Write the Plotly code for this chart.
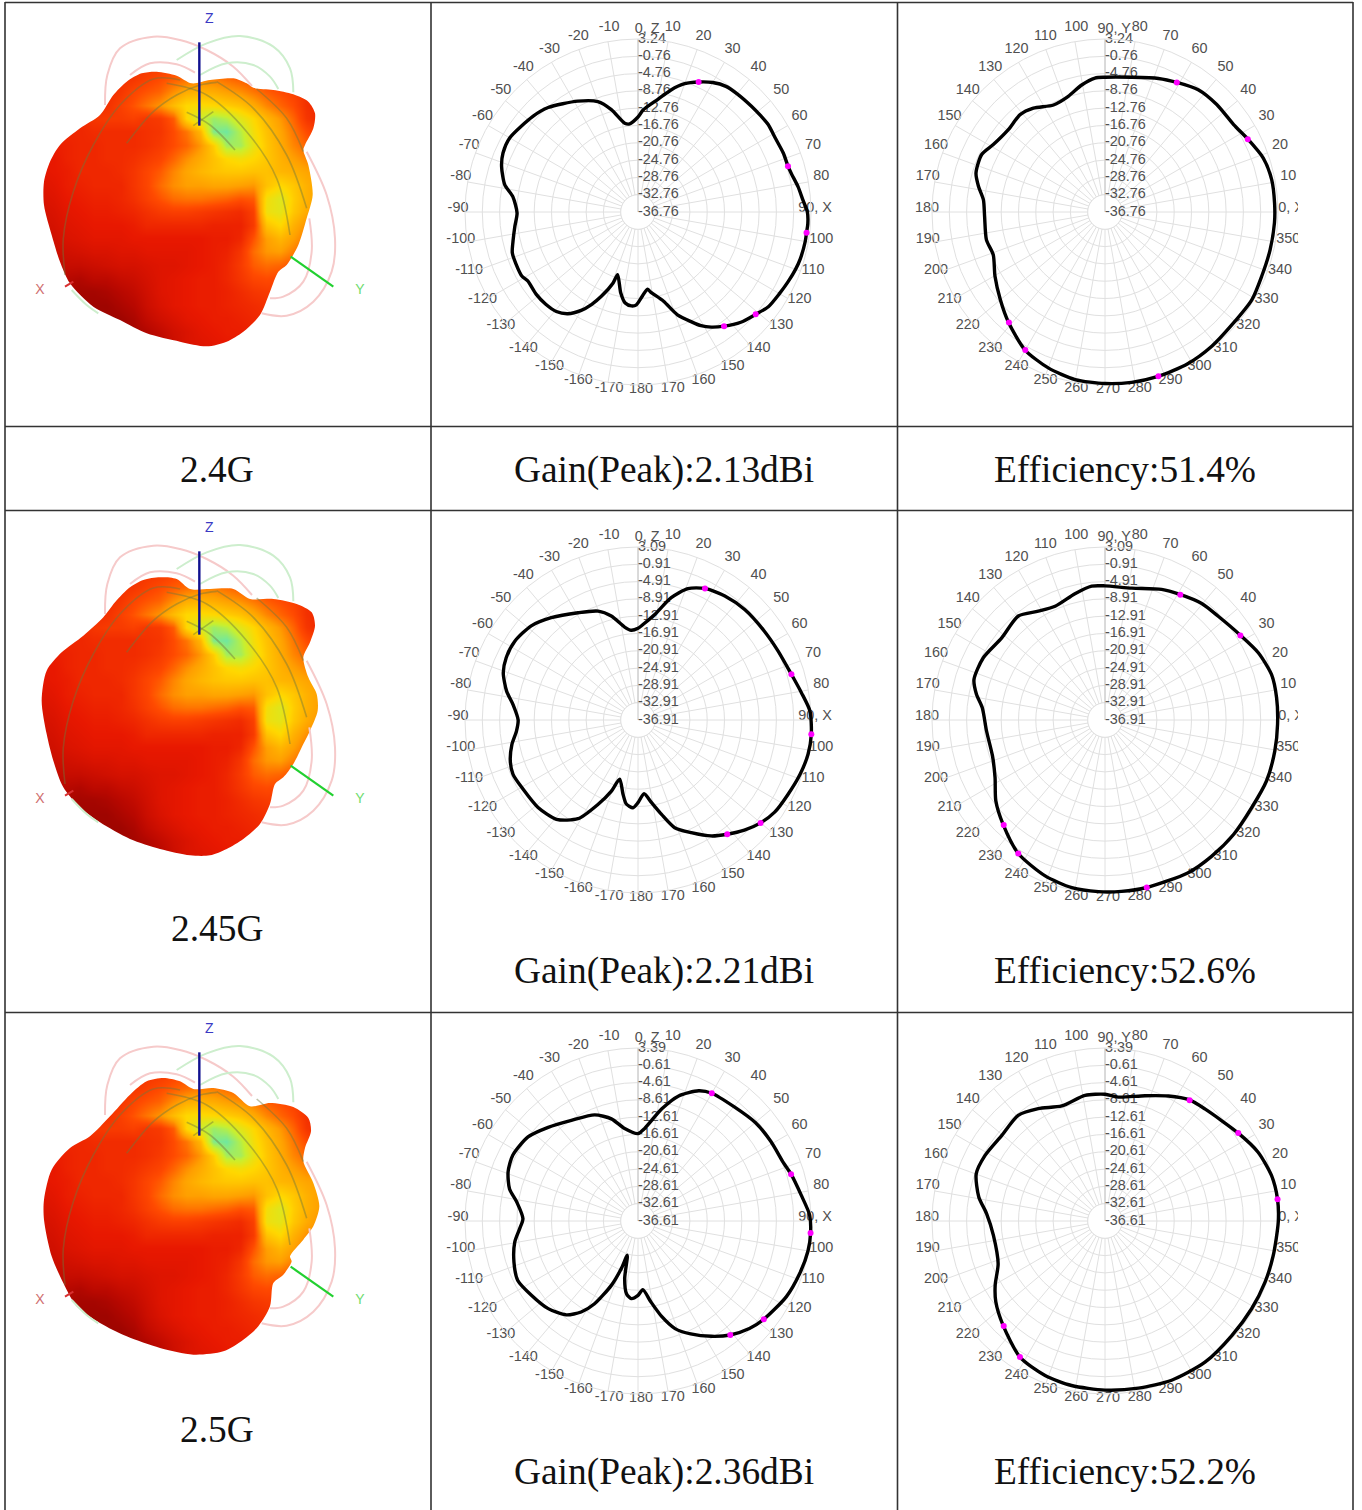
import plotly.graph_objects as go

W, H = 1362, 1510

# ---------- Text of the table ----------
freq_labels = ["2.4G", "2.45G", "2.5G"]
gain_labels = ["Gain(Peak):2.13dBi", "Gain(Peak):2.21dBi", "Gain(Peak):2.36dBi"]
eff_labels = ["Efficiency:51.4%", "Efficiency:52.6%", "Efficiency:52.2%"]

# ---------- Radial ticks (dB) ----------
ticks_r1 = [3.24, -0.76, -4.76, -8.76, -12.76, -16.76, -20.76, -24.76, -28.76, -32.76, -36.76]
ticks_r2 = [3.09, -0.91, -4.91, -8.91, -12.91, -16.91, -20.91, -24.91, -28.91, -32.91, -36.91]
ticks_r3 = [3.39, -0.61, -4.61, -8.61, -12.61, -16.61, -20.61, -24.61, -28.61, -32.61, -36.61]
ticktext_r1 = ["3.24", "-0.76", "-4.76", "-8.76", "-12.76", "-16.76", "-20.76", "-24.76", "-28.76", "-32.76", "-36.76"]
ticktext_r2 = ["3.09", "-0.91", "-4.91", "-8.91", "-12.91", "-16.91", "-20.91", "-24.91", "-28.91", "-32.91", "-36.91"]
ticktext_r3 = ["3.39", "-0.61", "-4.61", "-8.61", "-12.61", "-16.61", "-20.61", "-24.61", "-28.61", "-32.61", "-36.61"]

# ---------- Angular ticks ----------
angle_ticks = [0, 10, 20, 30, 40, 50, 60, 70, 80, 90, 100, 110, 120, 130, 140, 150, 160, 170,
               180, 190, 200, 210, 220, 230, 240, 250, 260, 270, 280, 290, 300, 310, 320, 330, 340, 350]
gain_angle_text = ["0, Z", "10", "20", "30", "40", "50", "60", "70", "80", "90, X", "100", "110", "120",
                   "130", "140", "150", "160", "170", "180", "-170", "-160", "-150", "-140", "-130",
                   "-120", "-110", "-100", "-90", "-80", "-70", "-60", "-50", "-40", "-30", "-20", "-10"]
eff_angle_text = ["0, X", "10", "20", "30", "40", "50", "60", "70", "80", "90, Y", "100", "110", "120",
                  "130", "140", "150", "160", "170", "180", "190", "200", "210", "220", "230", "240",
                  "250", "260", "270", "280", "290", "300", "310", "320", "330", "340", "350"]

# ---------- Gain cuts (XZ plane): angle, dB ----------
gain1_theta = [0, 3, 10, 15, 20, 25, 30, 35, 40, 47, 52, 56, 62, 68, 73, 76, 81, 86, 90, 94, 97, 100, 106, 110,
               115, 120, 126, 131, 137, 143, 147.5, 151, 154, 159, 164, 171, 173, 177, 181, 184, 188, 192, 198,
               199.4, 203.5, 206.7, 210, 214.6, 219.4, 225, 231, 238, 241, 247, 252, 257.5, 263.4, 269.5, 277,
               281.6, 288.5, 293.6, 300, 312.3, 319.3, 331.5, 340, 345.4, 351.5, 354.6]
gain1_db = [-14.8, -13.1, -10.3, -7.6, -5.2, -3.6, -2.2, -1.3, -1.1, -0.9, -0.7, -0.5, -0.7, -0.5, -0.5, -0.2, 0.7,
            1.5, 2.4, 2.6, 2.5, 2.5, 2.3, 2.0, 1.5, 1.0, 0.5, -0.7, -1.9, -3.7, -5.2, -6.7, -8.5, -11.3, -15.3,
            -18.0, -18.8, -17.3, -15.3, -15.0, -15.5, -17.6, -21.5, -19.3, -15.5, -12.8, -10.5, -8.2, -7.0, -6.6,
            -6.5, -6.7, -6.1, -6.1, -6.2, -7.2, -8.1, -8.8, -7.6, -5.3, -3.5, -2.7, -2.5, -3.9, -4.9, -7.6, -9.6,
            -12.3, -16.0, -16.3]
gain2_theta = [0, 3, 9, 15.2, 20.8, 26.9, 35, 44, 54.9, 63.8, 73.4, 80.5, 87, 94.7, 101.4, 108.6, 116.4, 124, 130,
               136, 142, 147.7, 154.7, 161.2, 166, 170.8, 175.3, 180, 183.3, 187.9, 191.4, 197.2, 200.6, 205.4,
               211.3, 219.4, 228.8, 238.9, 246.5, 252.2, 259, 264.8, 270, 277, 282.4, 289.3, 295.3, 302.6, 311.4,
               319.7, 330.8, 339.9, 345.6, 351.8, 355.7]
gain2_db = [-15.7, -14.8, -12.2, -7.6, -4.4, -2.8, -1.9, -1.4, -1.2, -0.8, 0.1, 1.4, 2.9, 3.3, 3.2, 2.6, 1.8, 1.2,
            0.1, -1.5, -3.4, -5.2, -8.1, -10.6, -14.4, -17.6, -19.8, -17.8, -16.6, -17.3, -19.4, -22.6, -19.3,
            -15.3, -10.2, -7.2, -6.2, -5.9, -5.4, -5.9, -7.2, -8.7, -9.2, -7.8, -5.8, -3.9, -3.2, -3.1, -4.0, -5.9,
            -8.5, -10.1, -12.1, -15.2, -16.1]
gain3_theta = [0, 4, 12, 18, 25, 30, 40, 50, 59, 68, 73, 81, 88, 94, 100, 108, 117, 128, 134, 141, 147.5, 155, 161,
               166, 171, 176, 180, 185, 189, 193, 197.3, 199.3, 202.5, 207.7, 212, 217.4, 225.7, 235, 243.7, 251.7,
               260.3, 266.3, 271.2, 279, 284, 290.7, 297.7, 307.4, 316.2, 326.5, 337.8, 345.4, 351.8]
gain3_db = [-16.4, -15.2, -10.1, -6.2, -3.4, -2.5, -2.1, -1.2, -0.8, -0.4, 0.4, 1.6, 3.1, 3.39, 3.3, 2.7, 1.9, 0.3,
            -0.8, -2.7, -5.0, -7.8, -10.3, -13.8, -17.7, -20.7, -19.4, -18.6, -19.6, -22.9, -28.3, -25.0, -20.5,
            -15.0, -11.8, -9.3, -7.6, -6.6, -5.6, -6.4, -7.7, -9.2, -10.0, -8.2, -6.0, -4.5, -3.9, -4.6, -6.6, -8.7,
            -10.1, -12.2, -15.0]

# ---------- Efficiency cuts (XY plane): angle, dB ----------
eff1_theta = [90, 78.8, 68.2, 61, 52.7, 43.9, 34.2, 27.1, 18.8, 11, 3, 356.3, 347.1, 337.7, 329.1, 318.3, 308.5, 298.6,
              287.9, 278.9, 270, 259.9, 250, 239.8, 228.7, 219.9, 210.3, 200.9, 193.2, 182, 174.2, 168.5, 163.2,
              155, 148.9, 139.6, 131.1, 124.6, 115.7, 107.6, 100.4, 94.3]
eff1_db = [-5.6, -5.0, -3.5, -2.5, -1.2, -0.9, -0.8, 0.3, 1.9, 2.5, 2.5, 2.5, 2.4, 2.4, 2.8, 2.5, 2.9, 3.2, 3.2, 3.1,
           2.9, 2.6, 1.6, 0.1, -2.9, -5.2, -7.3, -9.1, -8.6, -8.9, -8.5, -6.9, -5.6, -5.3, -6.6, -7.4, -6.9, -7.6,
           -9.3, -8.7, -6.9, -5.7]
eff2_theta = [90, 78.5, 66.6, 59.2, 50.3, 42.5, 32.2, 23.7, 15.3, 7.4, 358.6, 349.7, 339.3, 329.1, 318.3, 308, 298.4,
              284, 275.5, 267.8, 258.8, 249, 237, 225.6, 216.5, 207.7, 197.7, 185.3, 174.3, 168.7, 162.8, 152.9,
              141.5, 129.8, 121.5, 113.7, 103.4, 95.7]
eff2_db = [-5.9, -5.8, -4.0, -3.1, -1.9, -1.4, 0.0, 1.8, 3.0, 3.1, 3.0, 3.0, 3.0, 2.6, 2.9, 3.1, 3.3, 3.0, 2.9, 2.8,
           2.6, 1.7, -0.1, -3.2, -5.5, -8.2, -9.6, -9.4, -8.4, -6.6, -5.2, -5.3, -6.4, -5.6, -7.4, -8.2, -6.9, -5.8]
eff3_theta = [90, 83.9, 72.3, 63.1, 55.3, 48.3, 33.4, 24.2, 15.3, 7.2, 359.7, 348.5, 339.1, 329.1, 317.9, 305.3, 292.7,
              281.3, 270, 258.5, 248.8, 238, 225.6, 216.5, 210.3, 201.8, 187.3, 176.5, 169.2, 159.9, 151.3, 140.3,
              129.4, 120.7, 110.6, 99]
eff3_db = [-7.3, -7.8, -6.2, -4.2, -2.5, -1.9, 0.3, 2.2, 3.3, 3.6, 3.45, 3.1, 3.0, 2.9, 2.9, 3.4, 3.3, 2.8, 2.5, 2.2,
           1.7, 0.5, -2.9, -5.2, -7.2, -10.0, -10.6, -9.2, -6.9, -4.9, -5.0, -5.6, -5.0, -6.4, -8.2, -7.2]

# ---------- Magenta markers: angle, dB ----------
gain1_mark_theta = [25, 73, 97, 131, 143]
gain1_mark_db = [-3.6, -0.5, 2.5, -0.7, -3.7]
gain2_mark_theta = [27, 73.4, 94.7, 130, 142]
gain2_mark_db = [-2.8, 0.1, 3.3, 0.1, -3.4]
gain3_mark_theta = [30, 73, 94, 128, 141]
gain3_mark_db = [-2.5, 0.4, 3.39, 0.3, -2.7]
eff1_mark_theta = [61, 27, 288, 240, 229]
eff1_mark_db = [-2.5, 0.3, 3.2, 0.1, -2.9]
eff2_mark_theta = [59, 32, 284, 237, 226]
eff2_mark_db = [-3.1, 0.0, 3.0, -0.1, -3.2]
eff3_mark_theta = [55, 33.4, 7.2, 238, 226]
eff3_mark_db = [-2.5, 0.3, 3.6, 0.5, -2.9]

# ---------- 3D pattern picture: shading grid and silhouettes ----------
shade_x = [60, 100, 140, 180, 220, 260, 300, 340, 380, 420, 460, 500, 540, 580, 620, 660, 700, 740, 780, 820, 860, 900]
shade_y = [180, 220, 260, 300, 340, 380, 420, 460, 500, 540, 580, 620, 660, 700, 740, 780, 820, 860, 900, 940, 980, 1020]
shade_z = [
    [2.4, 2.4, 2.4, 2.4, 2.4, 2.4, 2.5, 2.5, 2.6, 2.7, 2.9, 3.0, 3.2, 3.2, 3.2, 3.1, 3.0, 2.8, 2.7, 2.6, 2.4, 2.4],
    [2.4, 2.4, 2.4, 2.4, 2.4, 2.4, 2.5, 2.6, 2.8, 3.0, 3.2, 3.4, 3.6, 3.6, 3.4, 3.2, 3.0, 2.9, 2.8, 2.6, 2.4, 2.4],
    [2.3, 2.3, 2.3, 2.3, 2.4, 2.4, 2.6, 2.9, 3.1, 3.3, 3.8, 4.2, 4.3, 4.2, 4.0, 3.8, 3.5, 3.2, 3.0, 2.8, 2.5, 2.3],
    [2.2, 2.2, 2.3, 2.3, 2.4, 2.5, 2.8, 3.1, 3.5, 3.9, 4.5, 5.0, 5.1, 5.0, 4.8, 4.6, 4.2, 3.7, 3.3, 3.0, 2.5, 2.3],
    [2.1, 2.2, 2.3, 2.4, 2.6, 2.7, 2.7, 2.8, 2.6, 2.7, 3.2, 5.0, 5.9, 6.5, 6.2, 5.5, 5.0, 4.4, 3.9, 3.3, 2.6, 2.3],
    [2.1, 2.2, 2.3, 2.3, 2.4, 2.4, 2.4, 2.4, 2.5, 2.6, 3.0, 3.5, 4.4, 6.8, 7.0, 6.2, 5.2, 4.6, 4.1, 3.5, 3.0, 2.6],
    [2.0, 2.1, 2.2, 2.3, 2.3, 2.4, 2.4, 2.4, 2.5, 2.7, 3.0, 3.3, 3.9, 4.8, 6.4, 6.4, 5.4, 4.7, 4.2, 3.7, 3.3, 3.0],
    [2.0, 2.0, 2.2, 2.3, 2.3, 2.4, 2.4, 2.5, 2.7, 2.9, 3.3, 3.8, 4.2, 4.6, 5.0, 5.2, 5.0, 4.7, 4.3, 4.0, 3.7, 3.5],
    [1.9, 2.0, 2.1, 2.3, 2.3, 2.3, 2.4, 2.6, 2.9, 3.2, 3.7, 4.1, 4.4, 4.6, 4.7, 4.7, 4.6, 4.6, 4.4, 4.3, 4.1, 4.0],
    [1.8, 1.9, 2.1, 2.2, 2.3, 2.3, 2.3, 2.6, 2.9, 3.4, 3.8, 4.0, 4.0, 4.1, 4.1, 4.0, 3.9, 4.6, 5.0, 4.7, 4.3, 4.0],
    [1.7, 1.8, 2.0, 2.1, 2.2, 2.2, 2.3, 2.5, 2.8, 3.1, 3.4, 3.5, 3.5, 3.4, 3.3, 3.1, 3.2, 5.2, 5.6, 4.8, 4.3, 4.0],
    [1.6, 1.7, 1.9, 2.0, 2.1, 2.1, 2.2, 2.3, 2.5, 2.7, 2.8, 2.8, 2.7, 2.6, 2.5, 2.4, 2.8, 5.3, 5.5, 4.7, 4.2, 3.8],
    [1.5, 1.6, 1.8, 1.9, 2.0, 2.0, 2.0, 2.1, 2.3, 2.3, 2.3, 2.3, 2.3, 2.2, 2.2, 2.2, 2.7, 4.6, 5.0, 4.3, 3.8, 3.6],
    [1.4, 1.5, 1.7, 1.8, 1.9, 1.9, 1.9, 2.0, 2.0, 2.0, 2.0, 2.0, 2.0, 2.1, 2.1, 2.3, 3.1, 4.0, 4.4, 4.0, 3.5, 3.2],
    [1.3, 1.4, 1.5, 1.6, 1.7, 1.7, 1.8, 1.8, 1.9, 1.9, 1.9, 1.9, 2.0, 2.1, 2.2, 2.6, 3.4, 3.9, 4.0, 3.6, 3.2, 3.0],
    [1.2, 1.2, 1.3, 1.3, 1.4, 1.5, 1.6, 1.6, 1.7, 1.8, 1.8, 1.9, 2.0, 2.1, 2.3, 2.7, 3.2, 3.4, 3.3, 3.0, 3.0, 3.0],
    [1.0, 1.0, 1.0, 0.9, 1.1, 1.1, 1.3, 1.4, 1.6, 1.8, 1.9, 2.0, 2.1, 2.1, 2.3, 2.6, 2.9, 3.0, 2.9, 2.8, 2.8, 2.8],
    [0.9, 0.9, 0.8, 0.7, 0.7, 0.8, 1.0, 1.2, 1.5, 1.8, 1.9, 2.0, 2.1, 2.1, 2.2, 2.4, 2.6, 2.7, 2.7, 2.7, 2.7, 2.7],
    [0.8, 0.8, 0.7, 0.6, 0.6, 0.6, 0.8, 1.0, 1.4, 1.7, 1.9, 2.0, 2.1, 2.1, 2.2, 2.3, 2.4, 2.5, 2.5, 2.5, 2.5, 2.5],
    [0.7, 0.7, 0.6, 0.6, 0.6, 0.6, 0.6, 0.8, 1.2, 1.5, 1.7, 1.9, 2.0, 2.1, 2.1, 2.2, 2.3, 2.4, 2.4, 2.4, 2.4, 2.4],
    [0.6, 0.6, 0.6, 0.5, 0.5, 0.5, 0.6, 0.7, 0.9, 1.2, 1.5, 1.7, 1.9, 2.0, 2.1, 2.1, 2.2, 2.3, 2.3, 2.3, 2.3, 2.3],
    [0.5, 0.5, 0.5, 0.5, 0.5, 0.5, 0.5, 0.6, 0.8, 1.0, 1.4, 1.7, 1.8, 1.9, 2.0, 2.0, 2.1, 2.2, 2.2, 2.2, 2.2, 2.2],
]
blob1_x = [410, 470, 515, 570, 640, 680, 700, 760, 820, 865, 885, 880, 855, 850, 865, 878, 860, 835, 800, 775, 750,
           720, 670, 620, 560, 480, 380, 300, 220, 150, 120, 95, 72, 72, 90, 120, 180, 240, 280, 320, 365]
blob1_y = [200, 212, 235, 225, 220, 235, 248, 255, 268, 290, 325, 370, 420, 435, 480, 570, 640, 720, 780, 800, 860,
           930, 980, 1010, 1024, 1010, 985, 945, 905, 835, 770, 690, 600, 530, 470, 420, 370, 330, 270, 230, 205]
blob2_x = [420, 470, 510, 570, 640, 690, 760, 830, 875, 885, 870, 850, 865, 890, 893, 870, 850, 820, 790, 765, 750,
           720, 670, 620, 570, 510, 420, 330, 240, 180, 130, 100, 80, 65, 80, 125, 190, 250, 285, 330, 370]
blob2_y = [190, 195, 225, 225, 225, 255, 255, 270, 295, 335, 385, 430, 490, 540, 590, 650, 690, 750, 790, 810, 870,
           930, 975, 1005, 1024, 1024, 1005, 975, 925, 880, 820, 740, 660, 560, 470, 415, 365, 310, 265, 220, 198]
blob3_x = [430, 480, 520, 580, 640, 690, 750, 820, 865, 873, 855, 850, 880, 898, 880, 850, 810, 815, 790, 760, 750,
           715, 670, 610, 520, 420, 320, 240, 170, 130, 95, 72, 72, 95, 150, 210, 270, 330, 380]
blob3_y = [189, 199, 222, 219, 234, 274, 264, 276, 309, 349, 399, 439, 504, 574, 634, 674, 724, 739, 779, 804, 874,
           934, 974, 1009, 1019, 999, 964, 924, 874, 804, 724, 614, 554, 464, 399, 364, 304, 239, 199]
blobs = [(blob1_x, blob1_y), (blob2_x, blob2_y), (blob3_x, blob3_y)]

pink_rings = [
    ([255, 262, 300, 400, 480, 560, 640, 696], [300, 210, 130, 95, 105, 135, 185, 243]),
    ([330, 390, 470, 525], [210, 175, 178, 203]),
    ([860, 920, 945, 935, 880, 800, 725], [440, 570, 700, 800, 890, 932, 925]),
    ([868, 875, 850, 790, 750], [640, 740, 830, 875, 880]),
]
green_rings = [
    ([470, 560, 660, 760, 810, 820], [165, 115, 93, 125, 190, 262]),
    ([540, 620, 700, 750, 775], [210, 175, 180, 215, 252]),
    ([155, 200, 235], [855, 900, 925]),
]
olive_arcs = [
    ([135, 130, 160, 220, 300, 400, 480], [810, 700, 560, 420, 300, 222, 225]),
    ([320, 400, 470, 540, 590], [415, 320, 270, 240, 232]),
    ([440, 560, 680, 770, 810], [235, 270, 380, 520, 690]),
    ([590, 700, 800, 860], [230, 310, 450, 610]),
    ([710, 800, 850], [252, 340, 440]),
    ([500, 570, 645], [322, 360, 435]),
    ([520, 580], [362, 320]),
]
axis_label_text = ["Z", "X", "Y"]
axis_label_x = [568, 60, 1020]
axis_label_y = [42, 855, 855]
axis_label_colors = ["#3a3ac4", "#cf6f6f", "#6fdc6f"]
z_axis_x, z_axis_y = [538, 538], [112, 362]
y_axis_x, y_axis_y = [812, 940], [755, 845]
x_axis_x, x_axis_y = [135, 160], [845, 830]

# ---------- Page geometry (pixels of the photographed page) ----------
col_centers = [638, 1105]
row_centers = [212, 720, 1221]
R_OUT = 173
DB_HEADROOM = 2.0          # dB above the outer ring, so the curve may run past it
PX_PER_DB = R_OUT / 40.0
LABEL_R = 200
pic_origins = [(20, 5), (20, 514), (20, 1015)]


def fx(px):
    return px / W


def fy(py):
    return 1 - py / H


fig = go.Figure()
layout = dict(
    width=W, height=H, margin=dict(l=0, r=0, t=0, b=0), autosize=False,
    paper_bgcolor="white", plot_bgcolor="white", showlegend=False, hovermode=False,
)

GRID = "#e0e0e0"
TICK_COLOR = "#505050"
TICK_FONT = dict(family="Liberation Sans, Arial, sans-serif", size=14.4, color=TICK_COLOR)

series = [
    [(gain1_theta, gain1_db, gain1_mark_theta, gain1_mark_db), (eff1_theta, eff1_db, eff1_mark_theta, eff1_mark_db)],
    [(gain2_theta, gain2_db, gain2_mark_theta, gain2_mark_db), (eff2_theta, eff2_db, eff2_mark_theta, eff2_mark_db)],
    [(gain3_theta, gain3_db, gain3_mark_theta, gain3_mark_db), (eff3_theta, eff3_db, eff3_mark_theta, eff3_mark_db)],
]
tick_vals = [ticks_r1, ticks_r2, ticks_r3]
tick_txts = [ticktext_r1, ticktext_r2, ticktext_r3]
hub_theta = list(range(0, 361, 10))


def label_place(text):
    """Where the source program puts an angular label: ring radius and a small angular nudge."""
    ring = {"90, X": 174, "0, Z": 179, "90, Y": 179, "180": 181, "270": 181}.get(text, 183)
    nudge = {"0, Z": 2.0, "90, Y": -2.0}.get(text, 0)
    return ring, nudge


pid = 0
# angular labels: a transparent polar subplot, slightly shifted as in the source program
for row, cy in enumerate(row_centers):
    for col, cx in enumerate(col_centers):
        pid += 1
        name = "polar" if pid == 1 else f"polar{pid}"
        is_gain = col == 0
        layout[name] = dict(
            domain=dict(x=[fx(cx + 3 - LABEL_R), fx(cx + 3 + LABEL_R)],
                        y=[fy(cy - 4 + LABEL_R), fy(cy - 4 - LABEL_R)]),
            bgcolor="rgba(0,0,0,0)",
            radialaxis=dict(visible=False, range=[0, LABEL_R]),
            angularaxis=dict(visible=False, rotation=90 if is_gain else 0,
                             direction="clockwise" if is_gain else "counterclockwise"),
        )
        texts = gain_angle_text if is_gain else eff_angle_text
        places = [label_place(t) for t in texts]
        fig.add_trace(go.Scatterpolar(theta=[a + p[1] for a, p in zip(angle_ticks, places)],
                                      r=[p[0] for p in places], text=texts, mode="text",
                                      textposition="middle center", textfont=TICK_FONT,
                                      subplot=name, cliponaxis=False))

# the grids with their radial labels
for row, cy in enumerate(row_centers):
    for col, cx in enumerate(col_centers):
        pid += 1
        name = f"polar{pid}"
        is_gain = col == 0
        vals = tick_vals[row]
        layout[name] = dict(
            domain=dict(x=[fx(cx - R_OUT), fx(cx + R_OUT)], y=[fy(cy + R_OUT), fy(cy - R_OUT)]),
            bgcolor="rgba(0,0,0,0)",
            radialaxis=dict(range=[vals[-1], vals[0]], tickmode="array", tickvals=vals, showticklabels=False,
                            ticks="", showline=False, gridcolor=GRID, gridwidth=1),
            angularaxis=dict(rotation=90 if is_gain else 0,
                             direction="clockwise" if is_gain else "counterclockwise",
                             tickmode="linear", tick0=0, dtick=10, showticklabels=False, ticks="",
                             linecolor=GRID, gridcolor=GRID, gridwidth=1),
        )
        # inner hub: the spokes stop at the first ring
        fig.add_trace(go.Scatterpolar(theta=hub_theta, r=[vals[-2]] * len(hub_theta), mode="lines",
                                      fill="toself", fillcolor="white", line=dict(color=GRID, width=1),
                                      subplot=name))
        axis_angle = 0 if is_gain else 90
        fig.add_trace(go.Scatterpolar(theta=[axis_angle, axis_angle], r=[vals[-1], vals[0]], mode="lines",
                                      line=dict(color="#c4c4c4", width=1), subplot=name))
        fig.add_trace(go.Scatterpolar(theta=[axis_angle] * len(vals), r=vals, text=tick_txts[row], mode="text",
                                      textposition="middle right", textfont=TICK_FONT, subplot=name,
                                      cliponaxis=False))

# the curves, on a hidden polar with the same scale but a little headroom above the outer ring
for row, cy in enumerate(row_centers):
    for col, cx in enumerate(col_centers):
        pid += 1
        name = f"polar{pid}"
        is_gain = col == 0
        vals = tick_vals[row]
        rad = R_OUT + DB_HEADROOM * PX_PER_DB
        layout[name] = dict(
            domain=dict(x=[fx(cx - rad), fx(cx + rad)], y=[fy(cy + rad), fy(cy - rad)]),
            bgcolor="rgba(0,0,0,0)",
            radialaxis=dict(visible=False, range=[vals[-1], vals[0] + DB_HEADROOM]),
            angularaxis=dict(visible=False, rotation=90 if is_gain else 0,
                             direction="clockwise" if is_gain else "counterclockwise"),
        )
        th, db, mth, mdb = series[row][col]
        fig.add_trace(go.Scatterpolar(theta=th + [th[0]], r=db + [db[0]], mode="lines",
                                      line=dict(color="black", width=3.4, shape="spline", smoothing=0.7),
                                      subplot=name, cliponaxis=False))
        fig.add_trace(go.Scatterpolar(theta=mth, r=mdb, mode="markers",
                                      marker=dict(color="#ff00ff", size=6), subplot=name, cliponaxis=False))

# ---------- 3D pattern pictures ----------
colors = [[0 / 7, "#7a0000"], [1 / 7, "#b80800"], [2 / 7, "#e81800"], [3 / 7, "#ff4a00"],
          [4 / 7, "#ffa000"], [5 / 7, "#ffd800"], [6 / 7, "#c8f030"], [7 / 7, "#70e8a0"]]
for i, (ox, oy) in enumerate(pic_origins):
    xa = "x" if i == 0 else f"x{i + 1}"
    ya = "y" if i == 0 else f"y{i + 1}"
    xk = "xaxis" if i == 0 else f"xaxis{i + 1}"
    yk = "yaxis" if i == 0 else f"yaxis{i + 1}"
    layout[xk] = dict(domain=[fx(ox), fx(ox + 400)], range=[0, 1200], visible=False, fixedrange=True)
    layout[yk] = dict(domain=[fy(oy + 370), fy(oy)], range=[1110, 0], visible=False, fixedrange=True)

    fig.add_trace(go.Heatmap(x=shade_x, y=shade_y, z=shade_z, zmin=0, zmax=7, colorscale=colors,
                             zsmooth="best", showscale=False, xaxis=xa, yaxis=ya))
    # white surround with a hole shaped like the silhouette
    bx, by = blobs[i]
    frame_x = [-40, -40, 1240, 1240, -40]
    frame_y = [-40, 1150, 1150, -40, -40]
    fig.add_trace(go.Scatter(x=frame_x + [None] + bx + [bx[0]], y=frame_y + [None] + by + [by[0]],
                             mode="lines", line=dict(color="white", width=0, shape="spline", smoothing=0.8),
                             fill="toself", fillcolor="white", xaxis=xa, yaxis=ya))
    for rx, ry in pink_rings:
        fig.add_trace(go.Scatter(x=rx, y=ry, mode="lines", xaxis=xa, yaxis=ya,
                                 line=dict(color="#f6caca", width=2, shape="spline")))
    for rx, ry in green_rings:
        fig.add_trace(go.Scatter(x=rx, y=ry, mode="lines", xaxis=xa, yaxis=ya,
                                 line=dict(color="#cdeecd", width=2, shape="spline")))
    for rx, ry in olive_arcs:
        fig.add_trace(go.Scatter(x=rx, y=ry, mode="lines", xaxis=xa, yaxis=ya,
                                 line=dict(color="rgba(110,120,60,0.45)", width=1.6, shape="spline")))
    fig.add_trace(go.Scatter(x=z_axis_x, y=z_axis_y, mode="lines", xaxis=xa, yaxis=ya,
                             line=dict(color="#101090", width=2.4)))
    fig.add_trace(go.Scatter(x=y_axis_x, y=y_axis_y, mode="lines", xaxis=xa, yaxis=ya,
                             line=dict(color="#22d030", width=2.2)))
    fig.add_trace(go.Scatter(x=x_axis_x, y=x_axis_y, mode="lines", xaxis=xa, yaxis=ya,
                             line=dict(color="#d83030", width=2)))
    fig.add_trace(go.Scatter(x=axis_label_x, y=axis_label_y, text=axis_label_text, mode="text", xaxis=xa, yaxis=ya,
                             textposition="middle center",
                             textfont=dict(family="Liberation Sans, Arial, sans-serif", size=14,
                                           color=axis_label_colors)))

# ---------- Table rules ----------
shapes = []
LINE = dict(color="#333333", width=1.6)
for x in [5, 431, 897.5, 1353]:
    shapes.append(dict(type="line", xref="paper", yref="paper", x0=fx(x), x1=fx(x), y0=fy(2), y1=0, line=LINE))
for y in [2.5, 426.5, 510.5, 1012.5]:
    shapes.append(dict(type="line", xref="paper", yref="paper", x0=fx(5), x1=fx(1353), y0=fy(y), y1=fy(y), line=LINE))
# the source pictures end just right of their labels
for cy in row_centers:
    shapes.append(dict(type="rect", xref="paper", yref="paper", x0=fx(1298), x1=fx(1352), y0=fy(cy + 30), y1=fy(cy - 60),
                       fillcolor="white", line=dict(width=0), layer="above"))

# ---------- Captions ----------
annos = []
CAP = dict(family="Liberation Serif, Times New Roman, serif", size=37.4, color="#111111")
freq_pos = [469.5, 928.5, 1429.5]
cap_pos = [469.5, 970.5, 1471.5]
for i in range(3):
    for text, x, y in [(freq_labels[i], 217, freq_pos[i]), (gain_labels[i], 664, cap_pos[i]), (eff_labels[i], 1125, cap_pos[i])]:
        annos.append(dict(text=text, x=fx(x), y=fy(y), xref="paper", yref="paper", showarrow=False,
                          xanchor="center", yanchor="middle", font=CAP))

layout["shapes"] = shapes
layout["annotations"] = annos
fig.update_layout(**layout)
fig.write_html("out.html", post_script="document.body.style.margin='0';", config={"displayModeBar": False})
